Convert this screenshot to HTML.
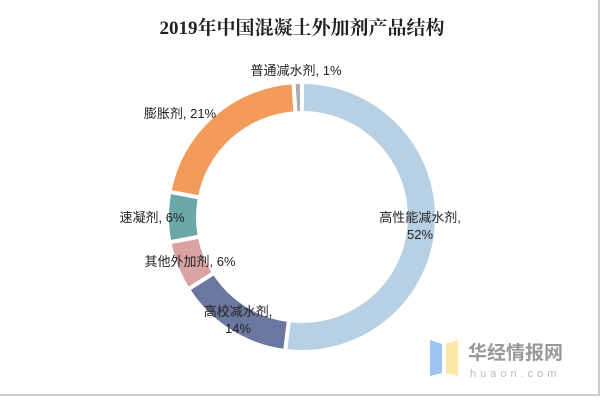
<!DOCTYPE html>
<html><head><meta charset="utf-8"><style>
body{margin:0;background:#fff;}
#c{position:relative;width:603px;height:400px;overflow:hidden;font-family:"Liberation Sans","Noto Sans CJK SC",sans-serif;}
.frame{position:absolute;left:0;top:0;width:600px;height:396px;border-right:2px solid #ccc;border-bottom:2px solid #ccc;box-sizing:border-box;}
</style></head><body>
<div id="c">
<div class="frame"></div>
<svg width="603" height="400" style="position:absolute;left:0;top:0">
<text x="302" y="34" text-anchor="middle" font-family="Liberation Serif, Noto Serif CJK SC, serif" font-size="19" font-weight="bold" fill="#222">2019年中国混凝土外加剂产品结构</text>
<g id="slices"></g>
<g id="labels" font-size="13" fill="#222"></g>
<g>
<polygon points="430,340 442,344 442,373 430,376" fill="#9ec3f0"/>
<polygon points="446,344 458,340 458,376 446,373" fill="#fbe6a6"/>
<text x="468" y="359" font-size="19" fill="#999" font-weight="bold">华经情报网</text>
<text x="470" y="377" font-size="11" fill="#bbb" letter-spacing="4">huaon.com</text>
</g>
</svg>
</div>
<script>
const categories=["高性能减水剂","高校减水剂","其他外加剂","速凝剂","膨胀剂","普通减水剂"];
const values=[52,14,6,6,21,1];
const colors=["#b8d0e4","#6c779f","#d9a3a2","#6aa9a8","#f39b5a","#a9aeb1"];
const cx=302,cy=217,R=135,r=104;
const total=values.reduce((a,b)=>a+b,0);
const sg=document.getElementById('slices'),lg=document.getElementById('labels');
const ns="http://www.w3.org/2000/svg";
function pt(a,rad){return [cx+rad*Math.sin(a),cy-rad*Math.cos(a)];}
let acc=0;
const labelPos=[[420,222],[238,316],[190,266],[152,222],[180,118],[296,75]];
values.forEach((v,i)=>{
 const a0=acc/total*2*Math.PI,a1=(acc+v)/total*2*Math.PI;acc+=v;
 const large=(a1-a0)>Math.PI?1:0;
 const p0=pt(a0,R),p1=pt(a1,R),q1=pt(a1,r),q0=pt(a0,r);
 const p=document.createElementNS(ns,'path');
 p.setAttribute('d',`M${p0[0]},${p0[1]}A${R},${R} 0 ${large} 1 ${p1[0]},${p1[1]}L${q1[0]},${q1[1]}A${r},${r} 0 ${large} 0 ${q0[0]},${q0[1]}Z`);
 p.setAttribute('fill',colors[i]);p.setAttribute('stroke','#fff');p.setAttribute('stroke-width','4');
 
 
 sg.appendChild(p);
 const [lx,ly]=labelPos[i];
 const t=document.createElementNS(ns,'text');
 t.setAttribute('text-anchor','middle');
 
 
 if(i===0||i===1){
  t.innerHTML=`<tspan x="${lx}" y="${ly}">${categories[i]},</tspan><tspan x="${lx}" y="${ly+17}">${v}%</tspan>`;
 }else{t.setAttribute('x',lx);t.setAttribute('y',ly);t.textContent=`${categories[i]}, ${v}%`;}
 lg.appendChild(t);
});
</script>
</body></html>
